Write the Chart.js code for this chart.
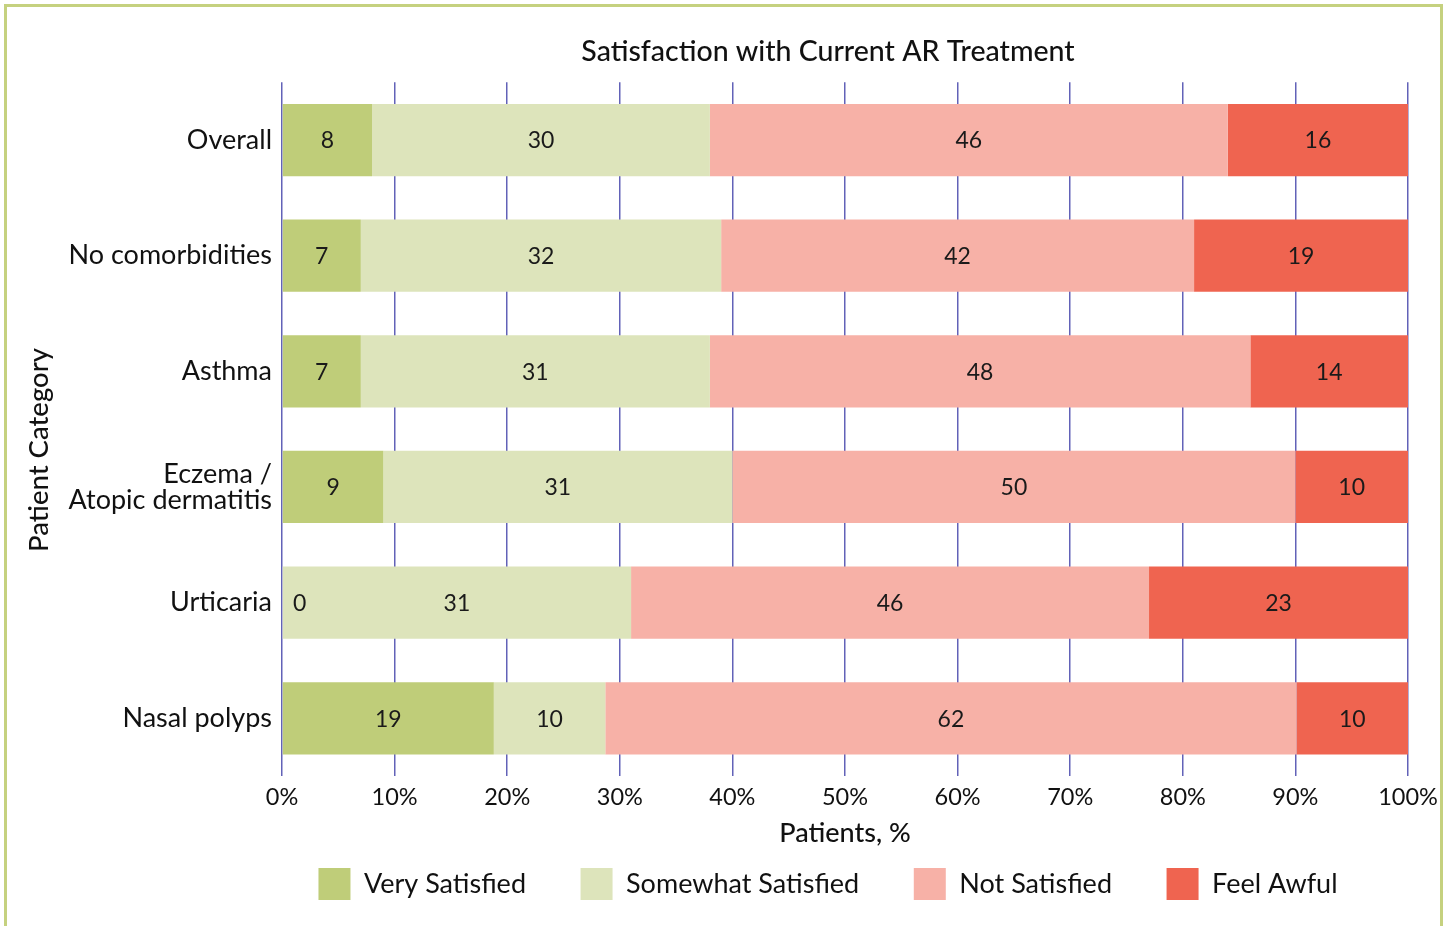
<!DOCTYPE html>
<html>
<head>
<meta charset="utf-8">
<script src="https://cdn.jsdelivr.net/npm/chart.js@4"></script>
<style>
  html, body { margin: 0; padding: 0; background: #fff; }
  #wrap { position: relative; width: 1450px; height: 926px; overflow: hidden; }
  #frame {
    position: absolute; left: 4px; top: 4px; width: 1433px; height: 960px;
    border: 3px solid #c5d17f; pointer-events: none;
  }
  canvas { position: absolute; left: 0; top: 0; }
</style>
</head>
<body>
<div id="wrap">
  <canvas id="satChart" width="1656" height="926"></canvas>
  <div id="frame"></div>
</div>
<script>
const categories = ['Overall', 'No comorbidities', 'Asthma', ['Eczema /', 'Atopic dermatitis'], 'Urticaria', 'Nasal polyps'];
const verySatisfied = [8, 7, 7, 9, 0, 19];
const somewhatSatisfied = [30, 32, 31, 31, 31, 10];
const notSatisfied = [46, 42, 48, 50, 46, 62];
const feelAwful = [16, 19, 14, 10, 23, 10];
const xTicks = [0, 10, 20, 30, 40, 50, 60, 70, 80, 90, 100];

const FONT = 'Lato, "Open Sans", sans-serif';

// 100% stacked: each row is scaled by its own total
const rowTotals = verySatisfied.map((v, i) => v + somewhatSatisfied[i] + notSatisfied[i] + feelAwful[i]);
const toPct = arr => arr.map((v, i) => v / rowTotals[i] * 100);

function makeSet(label, raw, color) {
    return {
        label: label,
        data: toPct(raw),
        raw: raw,
        backgroundColor: color,
        borderWidth: 0,
        barPercentage: 0.625,
        categoryPercentage: 1
    };
}

// draw the numbers inside each segment
const segmentLabels = {
    id: 'segmentLabels',
    afterDatasetsDraw(chart) {
        const ctx = chart.ctx;
        ctx.save();
        ctx.font = '23px ' + FONT;
        ctx.fillStyle = '#1a1a1a';
        ctx.textAlign = 'center';
        ctx.textBaseline = 'middle';
        chart.data.datasets.forEach((ds, di) => {
            const meta = chart.getDatasetMeta(di);
            meta.data.forEach((bar, i) => {
                const txt = String(ds.raw[i]);
                const tw = ctx.measureText(txt).width;
                let x = (bar.x + bar.base) / 2;
                x = Math.max(x, Math.min(bar.x, bar.base) + 11 + tw / 2);
                ctx.fillText(txt, x, bar.y + 1);
            });
        });
        ctx.restore();
    }
};

const ctx = document.getElementById('satChart').getContext('2d');

const chart = new Chart(ctx, {
    type: 'bar',
    data: {
        labels: categories,
        datasets: [
            makeSet('Very Satisfied', verySatisfied, '#bfcd79'),
            makeSet('Somewhat Satisfied', somewhatSatisfied, '#dde4bb'),
            makeSet('Not Satisfied', notSatisfied, '#f7b1a7'),
            makeSet('Feel Awful', feelAwful, '#ef6450')
        ]
    },
    options: {
        indexAxis: 'y',
        responsive: false,
        animation: false,
        layout: { padding: { top: 0, bottom: 16, left: 0, right: 0 } },
        plugins: {
            title: {
                display: true,
                text: 'Satisfaction with Current AR Treatment',
                color: '#111',
                font: { family: FONT, size: 28.5, weight: '500' },
                padding: { top: 35, bottom: 13 }
            },
            legend: {
                position: 'bottom',
                labels: {
                    boxWidth: 32,
                    boxHeight: 32,
                    padding: 20,
                    color: '#111',
                    font: { family: FONT, size: 27 },
                    generateLabels(c) {
                        const items = Chart.defaults.plugins.legend.labels.generateLabels(c);
                        c.ctx.save();
                        c.ctx.font = '27px ' + FONT;
                        const sw = c.ctx.measureText(' ').width;
                        c.ctx.restore();
                        const extra = ' '.repeat(Math.max(0, Math.round(32 / sw)));
                        items.forEach((it, i) => {
                            it.lineWidth = 0;
                            if (i < items.length - 1) it.text += extra;
                        });
                        return items;
                    }
                }
            },
            tooltip: { enabled: false }
        },
        scales: {
            x: {
                stacked: true,
                min: 0,
                max: 100,
                afterBuildTicks(scale) {
                    scale.ticks = xTicks.map(v => ({ value: v }));
                },
                grid: { color: '#6262b8', lineWidth: 1.5, drawTicks: false },
                border: { display: false },
                ticks: {
                    padding: 7,
                    color: '#111',
                    font: { family: FONT, size: 23.5 },
                    callback: v => v + '%'
                },
                title: {
                    display: true,
                    text: 'Patients, %',
                    color: '#111',
                    font: { family: FONT, size: 27, weight: '500', lineHeight: 1.1 },
                    padding: { top: 0, bottom: 0 }
                }
            },
            y: {
                stacked: true,
                grid: { display: false, drawTicks: false },
                border: { display: false },
                ticks: {
                    padding: 10,
                    color: '#111',
                    font: { family: FONT, size: 27, lineHeight: 0.97 }
                },
                title: {
                    display: true,
                    // trailing spaces nudge the rotated title down like the original
                    text: 'Patient Category      ',
                    color: '#111',
                    font: { family: FONT, size: 27.5, weight: '500' },
                    padding: { top: 23, bottom: 0 }
                },
                afterFit(scale) { scale.width = 282; }
            },
            // keeps title and legend centred the same way as the original
            spacer: {
                type: 'linear',
                position: 'right',
                display: true,
                grid: { display: false, drawTicks: false },
                border: { display: false },
                ticks: { display: false },
                afterFit(scale) { scale.width = 1656 - 1408; }
            }
        }
    },
    plugins: [segmentLabels]
});
</script>
</body>
</html>
